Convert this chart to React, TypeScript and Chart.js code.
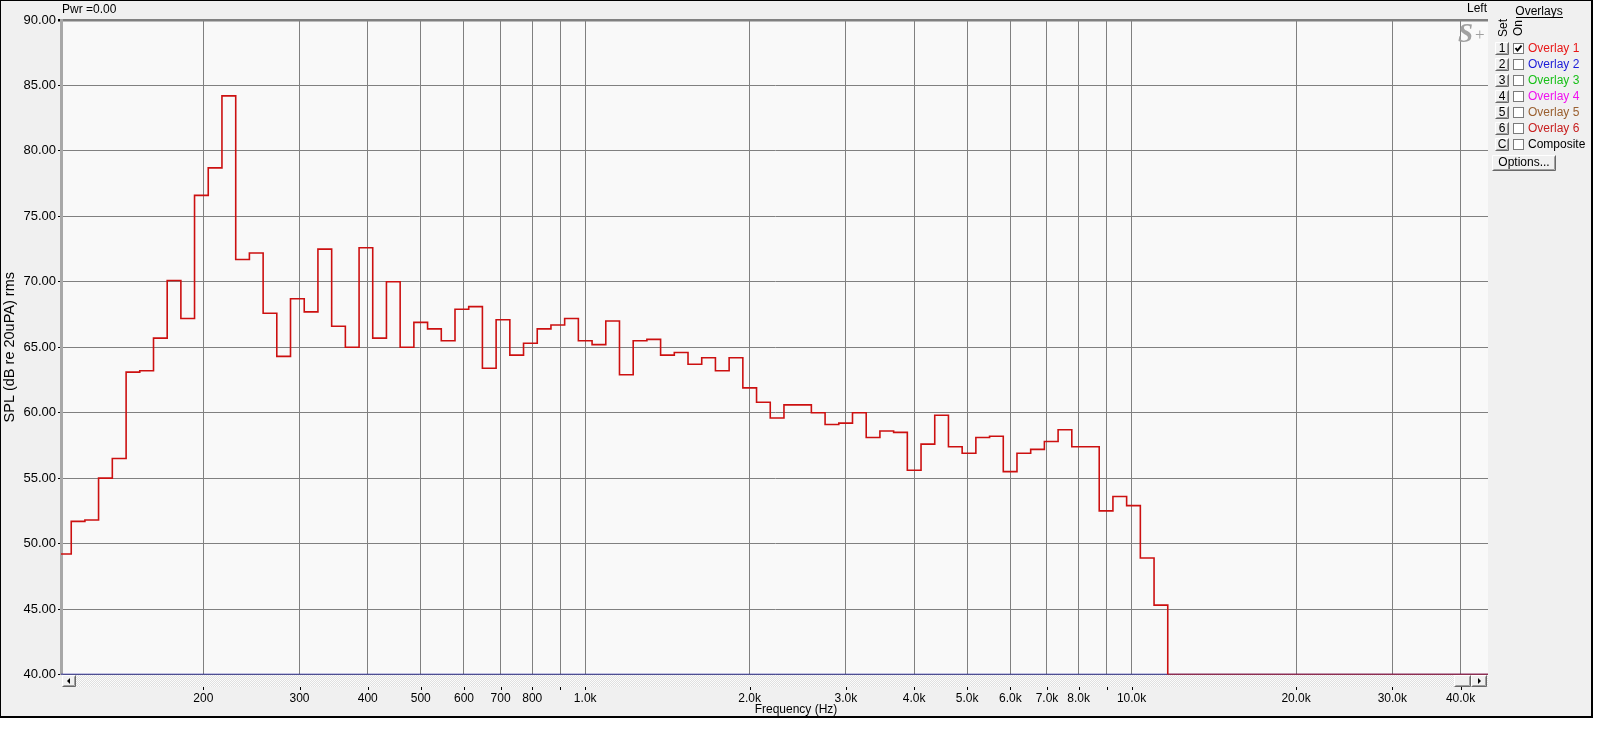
import React, { useEffect, useRef } from "react";
import { Chart, registerables } from "chart.js";

Chart.register(...registerables);

const FONT = '"Liberation Sans", Arial, sans-serif';

// 1/12-octave band centre frequencies (Hz)
const bandCenters = [
  111.4, 118.0, 125.0, 132.4, 140.3, 148.7, 157.5, 166.9, 176.8, 187.3, 198.4, 210.2,
  222.7, 236.0, 250.0, 264.9, 280.6, 297.3, 315.0, 333.7, 353.6, 374.6, 396.9, 420.4,
  445.4, 471.9, 500.0, 529.7, 561.2, 594.6, 630.0, 667.4, 707.1, 749.2, 793.7, 840.9,
  890.9, 943.9, 1000, 1059.5, 1122.5, 1189.2, 1259.9, 1334.8, 1414.2, 1498.3, 1587.4, 1681.8,
  1781.8, 1887.7, 2000, 2118.9, 2244.9, 2378.4, 2519.8, 2669.6, 2828.4, 2996.6, 3174.8, 3363.6,
  3563.6, 3775.5, 4000, 4237.9, 4489.8, 4756.8, 5039.7, 5339.4, 5656.9, 5993.2, 6349.6, 6727.2,
  7127.2, 7551.0, 8000, 8475.7, 8979.7, 9513.7, 10079.4, 10678.7, 11313.7, 11986.4, 12699.2, 13454.3,
  14254.4, 15102.0, 16000, 16951.3, 17959.4, 19027.3, 20158.7, 21357.5, 22627.4, 23972.8, 25398.4, 26908.7,
  28508.8, 30204.0, 32000, 33902.6, 35918.8, 38054.6, 40317.4, 42715.0, 45254.8,
];

// SPL per band (dB re 20uPa), floor = 40
const splValues = [
  49.2, 51.7, 51.8, 55.0, 56.5, 63.1, 63.2, 65.7, 70.1, 67.2, 76.6, 78.7,
  84.2, 71.7, 72.2, 67.6, 64.3, 68.7, 67.7, 72.5, 66.6, 65.0, 72.6, 65.7,
  70.0, 65.0, 66.9, 66.4, 65.5, 67.9, 68.1, 63.4, 67.1, 64.4, 65.3, 66.4,
  66.7, 67.2, 65.5, 65.2, 67.0, 62.9, 65.5, 65.6, 64.4, 64.6, 63.7, 64.2,
  63.2, 64.2, 61.9, 60.8, 59.6, 60.6, 60.6, 60.0, 59.1, 59.2, 60.0, 58.1,
  58.6, 58.5, 55.6, 57.6, 59.8, 57.4, 56.9, 58.1, 58.2, 55.5, 56.9, 57.2,
  57.8, 58.7, 57.4, 57.4, 52.5, 53.6, 52.9, 48.9, 45.3, 40, 40, 40,
  40, 40, 40, 40, 40, 40, 40, 40, 40, 40, 40, 40,
  40, 40, 40, 40, 40, 40, 40, 40, 40,
];

const X_MIN = 109.8;
const X_MAX = 44900;
const Y_MIN = 40;
const Y_MAX = 90;
const FLOOR = 40;

const xTickValues = [200, 300, 400, 500, 600, 700, 800, 900, 1000, 2000, 3000, 4000, 5000, 6000, 7000, 8000, 9000, 10000, 20000, 30000, 40000];
const xTickLabels = ["200", "300", "400", "500", "600", "700", "800", "", "1.0k", "2.0k", "3.0k", "4.0k", "5.0k", "6.0k", "7.0k", "8.0k", "", "10.0k", "20.0k", "30.0k", "40.0k"];
const yTickValues = [40, 45, 50, 55, 60, 65, 70, 75, 80, 85, 90];

const overlayKeys = ["1", "2", "3", "4", "5", "6", "C"];
const overlayNames = ["Overlay 1", "Overlay 2", "Overlay 3", "Overlay 4", "Overlay 5", "Overlay 6", "Composite"];
const overlayColors = ["#e81818", "#1c1cd8", "#18c018", "#f010f0", "#9a6030", "#c82020", "#000000"];
const overlayChecked = [true, false, false, false, false, false, false];

function drawButton(ctx: CanvasRenderingContext2D, x: number, y: number, w: number, h: number) {
  ctx.fillStyle = "#f0f0f0";
  ctx.fillRect(x, y, w, h);
  ctx.lineWidth = 1;
  ctx.strokeStyle = "#ffffff";
  ctx.beginPath();
  ctx.moveTo(x + 0.5, y + h - 0.5);
  ctx.lineTo(x + 0.5, y + 0.5);
  ctx.lineTo(x + w - 0.5, y + 0.5);
  ctx.stroke();
  ctx.strokeStyle = "#696969";
  ctx.beginPath();
  ctx.moveTo(x + w - 0.5, y + 0.5);
  ctx.lineTo(x + w - 0.5, y + h - 0.5);
  ctx.lineTo(x + 0.5, y + h - 0.5);
  ctx.stroke();
  ctx.strokeStyle = "#a0a0a0";
  ctx.beginPath();
  ctx.moveTo(x + w - 1.5, y + 1.5);
  ctx.lineTo(x + w - 1.5, y + h - 1.5);
  ctx.lineTo(x + 1.5, y + h - 1.5);
  ctx.stroke();
}

export default function App() {
  const ref = useRef<HTMLCanvasElement>(null);

  useEffect(() => {
    const canvas = ref.current;
    if (!canvas) return;
    const halfBand = Math.pow(2, 1 / 24);
    const stepPoints = bandCenters.map((c, i) => ({ x: c / halfBand, y: splValues[i] }));
    stepPoints.push({
      x: bandCenters[bandCenters.length - 1] * halfBand,
      y: splValues[splValues.length - 1],
    });
    const floorPoints = [
      { x: X_MIN, y: FLOOR },
      { x: X_MAX, y: FLOOR },
    ];

    const pattern = document.createElement("canvas");
    pattern.width = 2;
    pattern.height = 2;
    const pctx = pattern.getContext("2d")!;
    pctx.fillStyle = "#fcfcfc";
    pctx.fillRect(0, 0, 2, 2);
    pctx.fillStyle = "#e0e0e0";
    pctx.fillRect(1, 0, 1, 1);
    pctx.fillRect(0, 1, 1, 1);

    const decor = {
      id: "decor",
      beforeDraw(chart: any) {
        const { ctx, chartArea: a } = chart;
        ctx.save();
        ctx.fillStyle = "#ffffff";
        ctx.fillRect(0, 0, 1600, 750);
        ctx.fillStyle = "#000000";
        ctx.fillRect(0, 0, 1593, 718);
        ctx.fillStyle = "#f0f0f0";
        ctx.fillRect(1, 1, 1590, 715);
        ctx.fillStyle = "#f9f9f9";
        ctx.fillRect(a.left, a.top, a.right - a.left, a.bottom - a.top);
        ctx.restore();
      },
      afterDraw(chart: any) {
        const { ctx, chartArea: a } = chart;
        const xs = chart.scales.x;
        ctx.save();
        // scroll strip
        const sTop = Math.floor(a.bottom) + 1;
        const sH = 12;
        ctx.fillStyle = ctx.createPattern(pattern, "repeat");
        ctx.fillRect(a.left + 1, sTop, a.right - a.left - 1, sH);
        drawButton(ctx, a.left + 1, sTop, 14, 12);
        drawButton(ctx, a.right - 34, sTop, 17, 12);
        drawButton(ctx, a.right - 17, sTop, 16, 12);
        ctx.fillStyle = "#000";
        // left arrow
        ctx.beginPath();
        ctx.moveTo(a.left + 6, sTop + 6);
        ctx.lineTo(a.left + 9, sTop + 3);
        ctx.lineTo(a.left + 9, sTop + 9);
        ctx.closePath();
        ctx.fill();
        // right arrow
        ctx.beginPath();
        ctx.moveTo(a.right - 7, sTop + 6);
        ctx.lineTo(a.right - 10, sTop + 3);
        ctx.lineTo(a.right - 10, sTop + 9);
        ctx.closePath();
        ctx.fill();

        // x tick marks below strip
        ctx.strokeStyle = "#000";
        ctx.lineWidth = 1;
        xTickValues.forEach((v) => {
          const px = Math.round(xs.getPixelForValue(v)) + 0.5;
          ctx.beginPath();
          ctx.moveTo(px, sTop + sH);
          ctx.lineTo(px, sTop + sH + 3);
          ctx.stroke();
        });

        // texts
        ctx.fillStyle = "#000";
        ctx.font = `12px ${FONT}`;
        ctx.textBaseline = "middle";
        ctx.textAlign = "left";
        ctx.fillText("Pwr =0.00", 62, 10);
        ctx.textAlign = "right";
        ctx.fillText("Left", a.right - 1, 9);
        ctx.textAlign = "center";
        ctx.font = `12px ${FONT}`;
        ctx.fillText("Frequency (Hz)", 796, 710);

        // S+ logo
        ctx.fillStyle = "#a0a0a0";
        ctx.textAlign = "left";
        ctx.textBaseline = "alphabetic";
        ctx.font = 'italic bold 27px "Liberation Serif", "DejaVu Serif", serif';
        ctx.fillText("S", 1458, 42);
        ctx.font = '17px "Liberation Serif", serif';
        ctx.fillText("+", 1475, 40);

        // overlay panel
        ctx.fillStyle = "#000";
        ctx.font = `12px ${FONT}`;
        ctx.textAlign = "center";
        ctx.textBaseline = "middle";
        ctx.fillText("Overlays", 1539, 12);
        ctx.fillRect(1516, 17, 47, 1);
        ctx.save();
        ctx.translate(1504, 28);
        ctx.rotate(-Math.PI / 2);
        ctx.fillText("Set", 0, 0);
        ctx.restore();
        ctx.save();
        ctx.translate(1519, 28);
        ctx.rotate(-Math.PI / 2);
        ctx.fillText("On", 0, 0);
        ctx.restore();

        overlayKeys.forEach((k, i) => {
          const yc = 48 + 16 * i;
          drawButton(ctx, 1495, yc - 6, 14, 13);
          ctx.fillStyle = "#000";
          ctx.textAlign = "center";
          ctx.font = `12px ${FONT}`;
          ctx.fillText(k, 1502, yc + 0.5);
          // checkbox
          ctx.fillStyle = "#ffffff";
          ctx.fillRect(1513, yc - 5, 11, 11);
          ctx.strokeStyle = "#7a7a7a";
          ctx.lineWidth = 1;
          ctx.strokeRect(1513.5, yc - 4.5, 10, 10);
          if (overlayChecked[i]) {
            ctx.strokeStyle = "#000";
            ctx.lineWidth = 2;
            ctx.beginPath();
            ctx.moveTo(1515.5, yc);
            ctx.lineTo(1517.5, yc + 2.5);
            ctx.lineTo(1521.5, yc - 2.5);
            ctx.stroke();
          }
          ctx.fillStyle = overlayColors[i];
          ctx.textAlign = "left";
          ctx.fillText(overlayNames[i], 1528, yc + 0.5);
        });

        drawButton(ctx, 1492, 155, 64, 16);
        ctx.fillStyle = "#000";
        ctx.textAlign = "center";
        ctx.fillText("Options...", 1524, 163);
        ctx.restore();
      },
    };

    const chart = new Chart(canvas, {
      type: "line",
      data: {
        datasets: [
          {
            label: "Overlay 1",
            data: stepPoints,
            stepped: "before",
            borderColor: "#cc1010",
            borderWidth: 1.6,
            pointRadius: 0,
            fill: false,
          },
          {
            label: "Floor",
            data: floorPoints,
            borderColor: "#1a1aa0",
            borderWidth: 1.5,
            pointRadius: 0,
            fill: false,
          },
        ],
      },
      options: {
        animation: false,
        responsive: false,
        devicePixelRatio: 1,
        layout: { padding: { left: 0, top: 20, right: 112, bottom: 0 } },
        plugins: {
          legend: { display: false },
          tooltip: { enabled: false },
          title: { display: false },
        },
        scales: {
          x: {
            type: "logarithmic",
            min: X_MIN,
            max: X_MAX,
            position: "bottom",
            afterBuildTicks: (s: any) => {
              s.ticks = xTickValues.map((v) => ({ value: v }));
            },
            afterFit: (s: any) => {
              s.height = 75.5;
            },
            ticks: {
              autoSkip: false,
              maxRotation: 0,
              minRotation: 0,
              padding: 16.5,
              color: "#000",
              font: { family: FONT, size: 12 },
              callback: (_v: any, i: number) => xTickLabels[i],
            },
            grid: { color: "#808080", lineWidth: 1, drawTicks: false },
            border: { display: false },
          },
          y: {
            type: "linear",
            min: Y_MIN,
            max: Y_MAX,
            afterBuildTicks: (s: any) => {
              s.ticks = yTickValues.map((v) => ({ value: v }));
            },
            afterFit: (s: any) => {
              s.width = 61;
            },
            ticks: {
              padding: 2,
              color: "#000",
              font: { family: FONT, size: 13 },
              callback: (v: any) => Number(v).toFixed(2),
            },
            grid: {
              color: "#808080",
              lineWidth: (c: any) => (c.tick && c.tick.value === Y_MAX ? 2.5 : 1),
              tickColor: "#000",
              tickLength: 3,
            },
            border: { display: true, color: "#a8a8a8", width: 3 },
            title: {
              display: true,
              text: "SPL (dB re 20uPA) rms",
              color: "#000",
              font: { family: FONT, size: 14.5 },
              padding: { top: 1, bottom: 0 },
            },
          },
        },
      },
      plugins: [decor],
    } as any);

    return () => chart.destroy();
  }, []);

  return (
    <div style={{ position: "fixed", left: 0, top: 0, width: 1600, height: 750, background: "#fff" }}>
      <canvas ref={ref} width={1600} height={750} style={{ display: "block", width: 1600, height: 750 }} />
    </div>
  );
}
